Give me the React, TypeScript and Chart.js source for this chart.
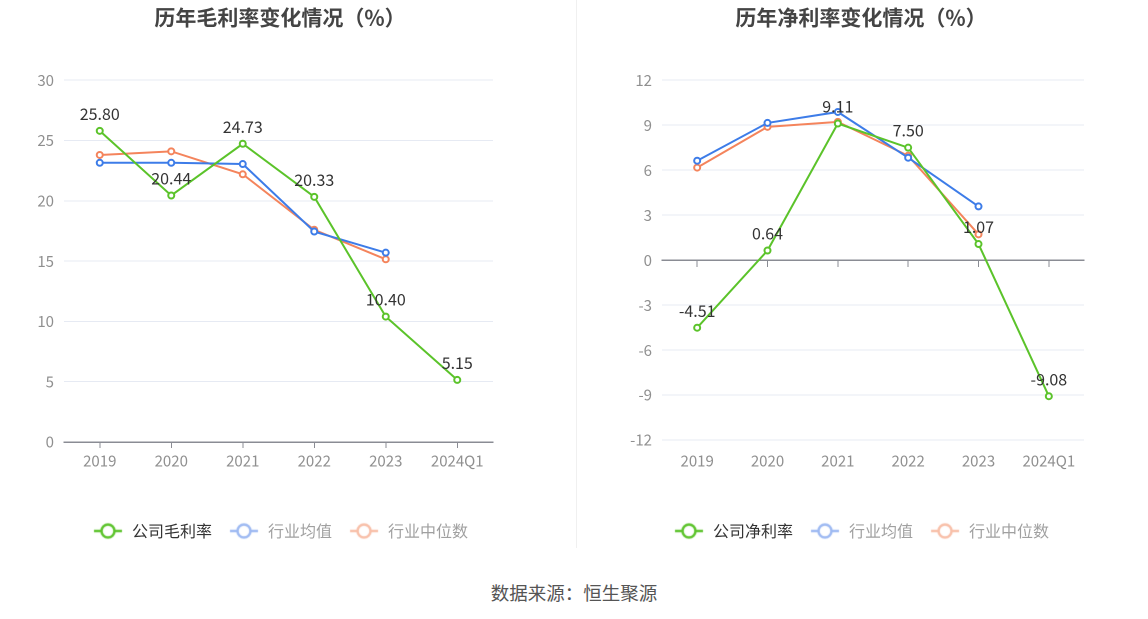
import React, { useEffect, useRef } from "react";
import { Chart, registerables } from "chart.js";

Chart.register(...registerables);

const years = ["2019", "2020", "2021", "2022", "2023", "2024Q1"];

// 毛利率
const grossCompany = [25.8, 20.44, 24.73, 20.33, 10.4, 5.15];
const grossMean = [23.15, 23.15, 23.05, 17.45, 15.7, null];
const grossMedian = [23.8, 24.1, 22.2, 17.6, 15.15, null];

// 净利率
const netCompany = [-4.51, 0.64, 9.11, 7.5, 1.07, -9.08];
const netMean = [6.63, 9.15, 9.88, 6.83, 3.58, null];
const netMedian = [6.17, 8.89, 9.22, 6.96, 1.72, null];

const GREEN = "#5BC32A";
const BLUE = "#3D7CE8";
const ORANGE = "#F4845C";
const FONT = "'Noto Sans CJK SC', 'Noto Sans', sans-serif";

function legendIcon(color: string) {
  const c = document.createElement("canvas");
  c.width = 32;
  c.height = 18;
  const ctx = c.getContext("2d")!;
  ctx.strokeStyle = color;
  ctx.lineWidth = 2.5;
  ctx.beginPath();
  ctx.moveTo(2, 9);
  ctx.lineTo(30, 9);
  ctx.stroke();
  ctx.fillStyle = "#fff";
  ctx.beginPath();
  ctx.arc(16, 9, 6.5, 0, Math.PI * 2);
  ctx.fill();
  ctx.stroke();
  return c;
}

const valueLabels = {
  id: "valueLabels",
  afterDatasetsDraw(chart: any) {
    const ctx = chart.ctx;
    const meta = chart.getDatasetMeta(0);
    const data = chart.data.datasets[0].data as number[];
    ctx.save();
    ctx.font = `16px ${FONT}`;
    ctx.fillStyle = "#333";
    ctx.textAlign = "center";
    ctx.textBaseline = "bottom";
    meta.data.forEach((pt: any, i: number) => {
      ctx.fillText(data[i].toFixed(2), pt.x, pt.y - 9);
    });
    ctx.restore();
  },
};

function makeConfig(
  title: string,
  companyLabel: string,
  company: number[],
  mean: (number | null)[],
  median: (number | null)[],
  min: number,
  max: number,
  step: number,
  zeroAxis: boolean
): any {
  const ds = (label: string, data: any[], color: string) => ({
    label,
    data,
    borderColor: color,
    backgroundColor: "#fff",
    borderWidth: 2,
    pointRadius: 3,
    pointBorderWidth: 2,
    pointBackgroundColor: "#fff",
    pointBorderColor: color,
    tension: 0,
    spanGaps: false,
  });
  const tickFont = { size: 15, family: FONT };
  const tickColor = "#8f8f8f";
  const scales: any = {
    x: {
      type: "category",
      offset: true,
      position: zeroAxis ? { y: 0 } : "bottom",
      grid: {
        display: true,
        offset: false,
        drawOnChartArea: false,
        drawTicks: true,
        tickLength: 6,
        color: "#8a8c94",
      },
      border: { display: true, color: "#8a8c94", width: 1.5 },
      ticks: {
        display: !zeroAxis,
        color: tickColor,
        font: tickFont,
        padding: 4,
        maxRotation: 0,
        autoSkip: false,
      },
      afterFit: (s: any) => {
        if (!zeroAxis) s.height += 33;
      },
    },
    y: {
      min,
      max,
      ticks: { stepSize: step, color: tickColor, font: tickFont, padding: 10 },
      grid: { color: "#E6EAF3", drawTicks: false, lineWidth: 1 },
      border: { display: false },
      afterFit: (s: any) => {
        s.width = zeroAxis ? 80 : 64;
      },
    },
    yr: {
      position: "right",
      display: true,
      grid: { display: false },
      border: { display: false },
      ticks: { display: false },
      afterFit: (s: any) => {
        s.width = zeroAxis ? 56 : 67;
      },
    },
  };
  if (zeroAxis) {
    scales.x2 = {
      type: "category",
      labels: years,
      offset: true,
      position: "bottom",
      grid: { display: false },
      border: { display: false },
      ticks: {
        color: tickColor,
        font: tickFont,
        padding: 4,
        maxRotation: 0,
        autoSkip: false,
      },
      afterFit: (s: any) => {
        s.height += 33;
      },
    };
  }
  return {
    type: "line",
    data: {
      labels: years,
      datasets: [
        ds(companyLabel, company, GREEN),
        ds("行业均值", mean, BLUE),
        ds("行业中位数", median, ORANGE),
      ],
    },
    options: {
      animation: false,
      responsive: false,
      devicePixelRatio: 2,
      layout: {
        padding: zeroAxis
          ? { left: 8, right: 8, top: 0, bottom: 3 }
          : { left: 0, right: 14, top: 0, bottom: 3 },
      },
      plugins: {
        title: {
          display: true,
          text: title,
          color: "#444",
          font: { size: 21, weight: "bold", family: FONT },
          padding: { top: 5, bottom: 50 },
        },
        legend: {
          display: true,
          position: "bottom",
          onClick: () => {},
          labels: {
            usePointStyle: true,
            pointStyleWidth: 32,
            padding: 16,
            font: { size: 16, family: FONT },
            generateLabels: (chart: any) =>
              chart.data.datasets.map((d: any, i: number) => ({
                text: d.label,
                datasetIndex: i,
                pointStyle: legendIcon(
                  i === 0 ? GREEN : i === 1 ? "#9DB9F2" : "#F8BFA8"
                ),
                fontColor: i === 0 ? "#333" : "#a0a0a0",
                lineWidth: 0,
                strokeStyle: "transparent",
                fillStyle: "transparent",
              })),
          },
        },
        tooltip: { enabled: false },
      },
      scales,
    },
    plugins: [valueLabels],
  };
}

function LineChart(props: { config: any; left: number }) {
  const ref = useRef<HTMLCanvasElement | null>(null);
  useEffect(() => {
    const ctx = ref.current?.getContext("2d");
    if (!ctx) return;
    const chart = new Chart(ctx, props.config);
    return () => chart.destroy();
  }, []);
  return (
    <canvas
      ref={ref}
      width={574}
      height={552}
      style={{ position: "absolute", left: props.left, top: 0, width: 574, height: 552 }}
    />
  );
}

export default function App() {
  const grossCfg = makeConfig(
    "历年毛利率变化情况（%）",
    "公司毛利率",
    grossCompany,
    grossMean,
    grossMedian,
    0,
    30,
    5,
    false
  );
  const netCfg = makeConfig(
    "历年净利率变化情况（%）",
    "公司净利率",
    netCompany,
    netMean,
    netMedian,
    -12,
    12,
    3,
    true
  );
  return (
    <div
      style={{
        position: "absolute",
        left: 0,
        top: 0,
        width: 1148,
        height: 619,
        background: "#fff",
        overflow: "hidden",
        fontFamily: FONT,
      }}
    >
      <LineChart config={grossCfg} left={0} />
      <LineChart config={netCfg} left={574} />
      <div
        style={{
          position: "absolute",
          left: 576,
          top: 0,
          width: 1,
          height: 548,
          background: "#F0F0F0",
        }}
      />
      <div
        style={{
          position: "absolute",
          left: 0,
          width: 1148,
          top: 578,
          lineHeight: "28px",
          textAlign: "center",
          fontSize: 18.5,
          color: "#555",
        }}
      >
        数据来源：恒生聚源
      </div>
    </div>
  );
}
